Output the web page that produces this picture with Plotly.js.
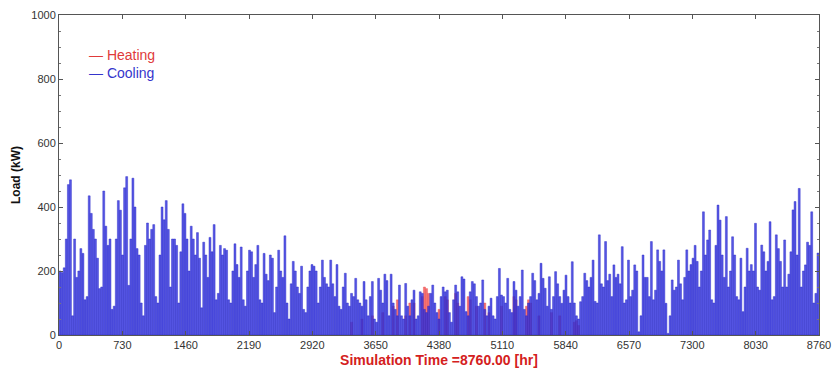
<!DOCTYPE html>
<html>
<head>
<meta charset="utf-8">
<script src="https://cdn.plot.ly/plotly-3.0.1.min.js"></script>
<style>html,body{margin:0;padding:0;background:#fff;}#chart{width:834px;height:374px;}</style>
</head>
<body>
<div id="chart"></div>
<script>
// Daily peak cooling load (kW), day 0 .. 364
const coolingDaily = [
200,195,210,300,470,485,60,300,180,200,270,255,110,120,435,380,330,300,240,145,
150,450,340,280,300,80,90,300,420,390,250,460,495,155,300,490,400,270,250,100,
60,280,350,300,330,345,120,100,250,400,360,420,330,150,300,300,280,100,260,410,
380,300,200,340,300,250,320,240,85,290,250,180,305,260,345,110,130,280,250,270,
265,110,100,200,285,220,180,275,110,90,200,265,260,180,220,280,110,100,255,190,
170,250,240,70,150,265,200,180,310,100,50,160,230,200,150,130,215,80,70,150,
200,220,215,200,100,150,234,180,160,150,234,160,120,220,90,80,150,193,100,90,
130,120,177,110,100,90,167,110,60,120,167,50,40,177,140,100,190,170,60,190,
100,80,60,156,60,50,161,90,60,110,140,50,60,135,130,80,70,90,130,156,
100,70,50,120,150,135,140,70,40,110,156,135,90,182,175,73,60,135,167,160,
120,90,100,172,80,60,90,115,60,50,120,208,125,120,100,177,80,70,167,140,
90,120,203,80,60,100,120,193,170,110,130,224,177,146,90,182,80,120,198,160,
120,99,140,187,120,100,229,100,60,50,104,120,193,170,150,180,234,105,100,313,
160,150,292,170,190,120,219,180,190,160,276,100,110,234,120,140,219,200,10,60,
250,180,180,120,292,110,140,266,230,200,266,99,5,60,172,140,150,234,160,110,
180,266,200,220,240,280,230,150,200,385,250,297,328,110,100,280,406,359,250,180,
370,150,200,307,250,120,110,240,73,150,271,200,220,200,349,150,140,281,260,200,
230,354,110,120,313,270,230,150,297,150,190,260,391,417,250,458,150,200,219,290,
280,385,100,130,256
];
// Days with heating load and their peak heating load (kW)
const heatingDay  = [140,145,150,155,160,162,166,168,170,174,175,176,177,182,185,186,190,191,196,197,200,204,206,212,218,219,224,225,226,230,236,240,247,248,249];
const heatingLoad = [ 40, 50, 60, 70, 90,110, 60,100,100,120,150,145,130, 80,120,110,130,100,120,110, 90,100, 70, 90,120,110, 90,110,100, 60, 70, 60, 40, 45, 30];
// Axis ticks
const xTicks = [0,730,1460,2190,2920,3650,4380,5110,5840,6570,7300,8030,8760];
const yTicks = [0,200,400,600,800,1000];

const HOURS_PER_DAY = 24;
const coolX = coolingDaily.map((v,i) => i*HOURS_PER_DAY + HOURS_PER_DAY/2);
const heatX = heatingDay.map(d => d*HOURS_PER_DAY + HOURS_PER_DAY/2);

const traces = [
  {type:'bar', x: heatX, y: heatingLoad, width: 24,
   marker:{color:'rgba(240,80,80,0.8)', line:{width:0.5, color:'rgba(240,80,80,0.8)'}}, showlegend:false, hoverinfo:'skip'},
  {type:'bar', x: coolX, y: coolingDaily, width: 22,
   marker:{color:'rgba(50,50,222,0.82)', line:{width:0.5, color:'rgba(40,40,200,0.9)'}}, showlegend:false, hoverinfo:'skip'}
];

const axisCommon = {
  showline:true, linecolor:'#555', linewidth:1, mirror:'ticks',
  ticks:'inside', ticklen:4, tickcolor:'#555', showgrid:false, zeroline:false,
  tickfont:{family:'Liberation Sans, Arial, sans-serif', size:11, color:'#333'}
};

const layout = {
  width:834, height:374,
  margin:{l:59, r:15, t:15, b:39},
  paper_bgcolor:'#fff', plot_bgcolor:'#fff',
  barmode:'overlay',
  showlegend:false,
  xaxis: Object.assign({}, axisCommon, {
    range:[0,8760], tickvals:xTicks, ticktext:xTicks.map(String),
    title:{text:'Simulation Time =8760.00 [hr]', standoff:4,
      font:{family:'Liberation Sans, Arial, sans-serif', size:14, color:'#d42020', weight:'bold'}}
  }),
  yaxis: Object.assign({}, axisCommon, {
    range:[0,1000], tickvals:yTicks, ticktext:yTicks.map(String),
    minor:{dtick:50, ticks:'inside', ticklen:2, tickcolor:'#777'},
    title:{text:'<b>Load (kW)</b>', standoff:8,
      font:{family:'Liberation Sans, Arial, sans-serif', size:12, color:'#111'}}
  }),
  annotations:[
    {xref:'paper', yref:'paper', x:0.037, y:0.875, xanchor:'left', yanchor:'middle', showarrow:false,
     text:'— Heating', font:{family:'Liberation Sans, Arial, sans-serif', size:14, color:'#e03a3a'}},
    {xref:'paper', yref:'paper', x:0.037, y:0.82, xanchor:'left', yanchor:'middle', showarrow:false,
     text:'— Cooling', font:{family:'Liberation Sans, Arial, sans-serif', size:14, color:'#3535cc'}}
  ]
};

Plotly.newPlot('chart', traces, layout, {staticPlot:true, displayModeBar:false});
</script>
</body>
</html>
